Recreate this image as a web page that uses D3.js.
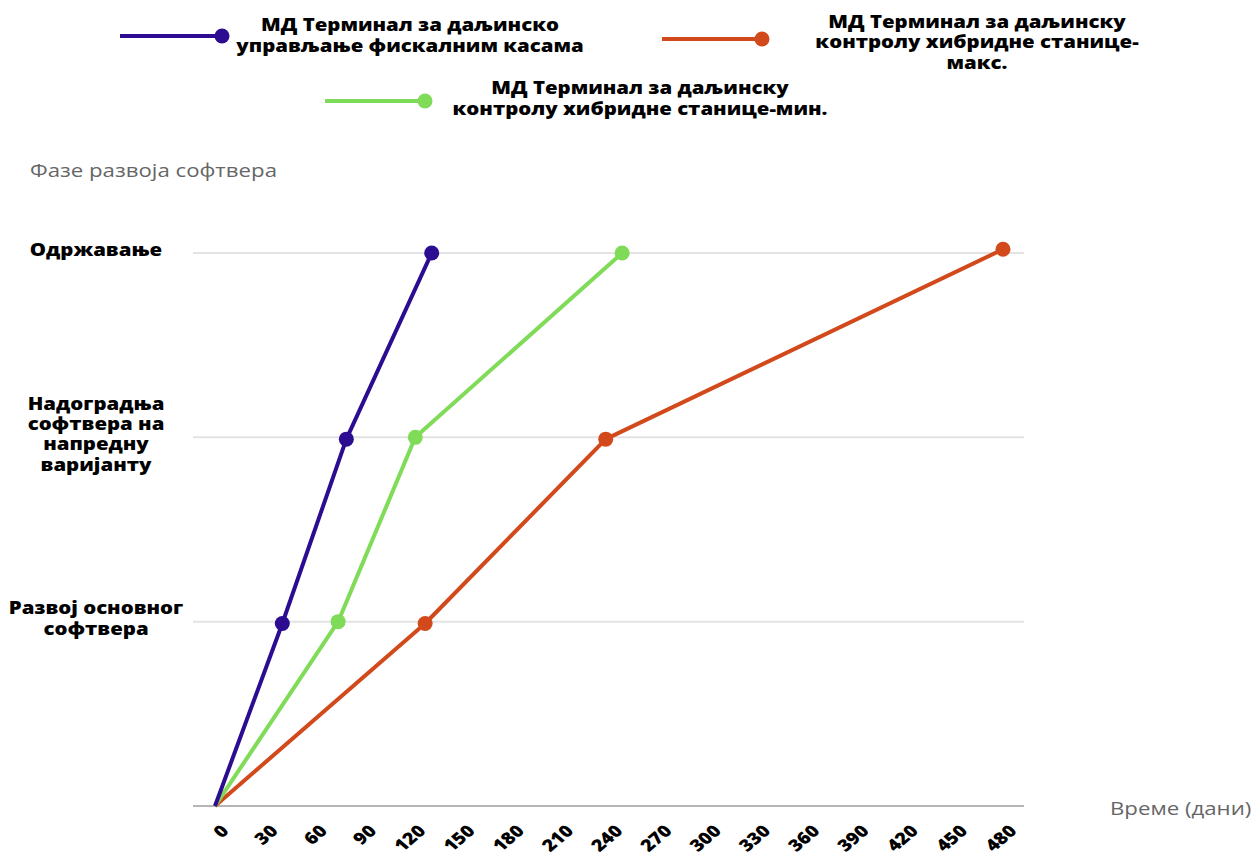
<!DOCTYPE html>
<html>
<head>
<meta charset="utf-8">
<script src="https://cdn.jsdelivr.net/npm/d3@7"></script>
<style>
  body { margin: 0; background: #fff; }
  svg { display: block; font-family: "Open Sans", sans-serif; }
</style>
</head>
<body>
<svg id="chart" width="1255" height="860"></svg>
<script>
// Development timeline: days (x) vs. phase level (y)
const xTicks = [0, 30, 60, 90, 120, 150, 180, 210, 240, 270, 300, 330, 360, 390, 420, 450, 480];
const phaseLevels = [0, 1, 2, 3];
const phaseLines = [[], ["Развој основног", "софтвера"], ["Надоградња", "софтвера на", "напредну", "варијанту"], ["Одржавање"]];

const seriesNames = [
  ["МД Терминал за даљинско", "управљање фискалним касама"],
  ["МД Терминал за даљинску", "контролу хибридне станице-", "макс."],
  ["МД Терминал за даљинску", "контролу хибридне станице-мин."]
];
const seriesColors = ["#2c0c90", "#d24a1b", "#7fdb58"];

const fiscalDays = [0, 41, 80, 132];
const fiscalPhase = [0, 0.99, 1.99, 3];
const hybridMaxDays = [0, 128, 238, 480];
const hybridMaxPhase = [0, 0.99, 1.99, 3.02];
const hybridMinDays = [0, 75, 122, 248];
const hybridMinPhase = [0, 1, 2, 3];

const series = [
  { lines: seriesNames[0], color: seriesColors[0], days: fiscalDays, phase: fiscalPhase },
  { lines: seriesNames[1], color: seriesColors[1], days: hybridMaxDays, phase: hybridMaxPhase },
  { lines: seriesNames[2], color: seriesColors[2], days: hybridMinDays, phase: hybridMinPhase }
];

const svg = d3.select("#chart");
const plot = { left: 215, right: 1003, top: 253, bottom: 806 };
const SX = 1.2; // horizontal stretch of the lettering

const x = d3.scaleLinear().domain([0, 480]).range([plot.left, plot.right]);
const y = d3.scaleLinear().domain([0, 3]).range([plot.bottom, plot.top]);

// centred, possibly multi-line bold label
function blockLabel(cx, cy, lines, size, lh) {
  const g = svg.append("g").attr("transform", `translate(${cx},${cy}) scale(${SX},1)`);
  const t = g.append("text")
    .attr("text-anchor", "middle")
    .attr("font-weight", 800)
    .attr("font-size", size)
    .attr("fill", "#000");
  lines.forEach((ln, i) => {
    t.append("tspan")
      .attr("x", 0)
      .attr("y", (i - (lines.length - 1) / 2) * lh)
      .attr("dy", "0.35em")
      .text(ln);
  });
}

// horizontal grid lines
svg.append("g").selectAll("line")
  .data(phaseLevels.filter(d => d > 0))
  .join("line")
  .attr("x1", 193).attr("x2", 1024)
  .attr("y1", d => y(d)).attr("y2", d => y(d))
  .attr("stroke", "#e3e3e3").attr("stroke-width", 2);

// baseline
svg.append("line")
  .attr("x1", 193).attr("x2", 1024)
  .attr("y1", y(0)).attr("y2", y(0))
  .attr("stroke", "#b5b5b5").attr("stroke-width", 2);

// y labels (phases)
phaseLevels.filter(d => d > 0).forEach(d => {
  blockLabel(96, y(d) - 3, phaseLines[d], 17, 20.4);
});

// x tick labels, rotated
svg.append("g").selectAll("g")
  .data(xTicks)
  .join("g")
  .attr("transform", d => `translate(${x(d) + 15},${832}) scale(${SX},1) rotate(-45)`)
  .append("text")
  .attr("text-anchor", "end")
  .attr("font-weight", 800)
  .attr("font-size", 16.5)
  .attr("fill", "#000")
  .text(d => d);

// axis titles
svg.append("g").attr("transform", `translate(30,177) scale(1.17,1)`)
  .append("text")
  .attr("font-size", 19).attr("fill", "#666")
  .text("Фазе развоја софтвера");
svg.append("g").attr("transform", `translate(1110,815) scale(1.17,1)`)
  .append("text")
  .attr("font-size", 19).attr("fill", "#666")
  .text("Време (дани)");

// lines and markers
const line = d3.line().x(d => x(d[0])).y(d => y(d[1]));
const drawOrder = [1, 2, 0];
drawOrder.forEach(i => {
  const s = series[i];
  const pts = s.days.map((d, k) => [d, s.phase[k]]);
  svg.append("path")
    .datum(pts)
    .attr("d", line)
    .attr("fill", "none")
    .attr("stroke", s.color)
    .attr("stroke-width", 4)
    .attr("stroke-linejoin", "round");
  svg.append("g").selectAll("circle")
    .data(pts.slice(1))
    .join("circle")
    .attr("cx", d => x(d[0]))
    .attr("cy", d => y(d[1]))
    .attr("r", 7.5)
    .attr("fill", s.color);
});

// legend
const legend = [
  { i: 0, x1: 120, x2: 222, ly: 36, tx: 410, ty: 35.5 },
  { i: 1, x1: 662, x2: 762, ly: 39, tx: 977, ty: 42.5 },
  { i: 2, x1: 325, x2: 425, ly: 101, tx: 640, ty: 98.5 }
];
legend.forEach(l => {
  const s = series[l.i];
  svg.append("line")
    .attr("x1", l.x1).attr("x2", l.x2)
    .attr("y1", l.ly).attr("y2", l.ly)
    .attr("stroke", s.color).attr("stroke-width", 4);
  svg.append("circle")
    .attr("cx", l.x2).attr("cy", l.ly).attr("r", 7.5).attr("fill", s.color);
  blockLabel(l.tx, l.ty, s.lines, 17, 20.5);
});
</script>
</body>
</html>
